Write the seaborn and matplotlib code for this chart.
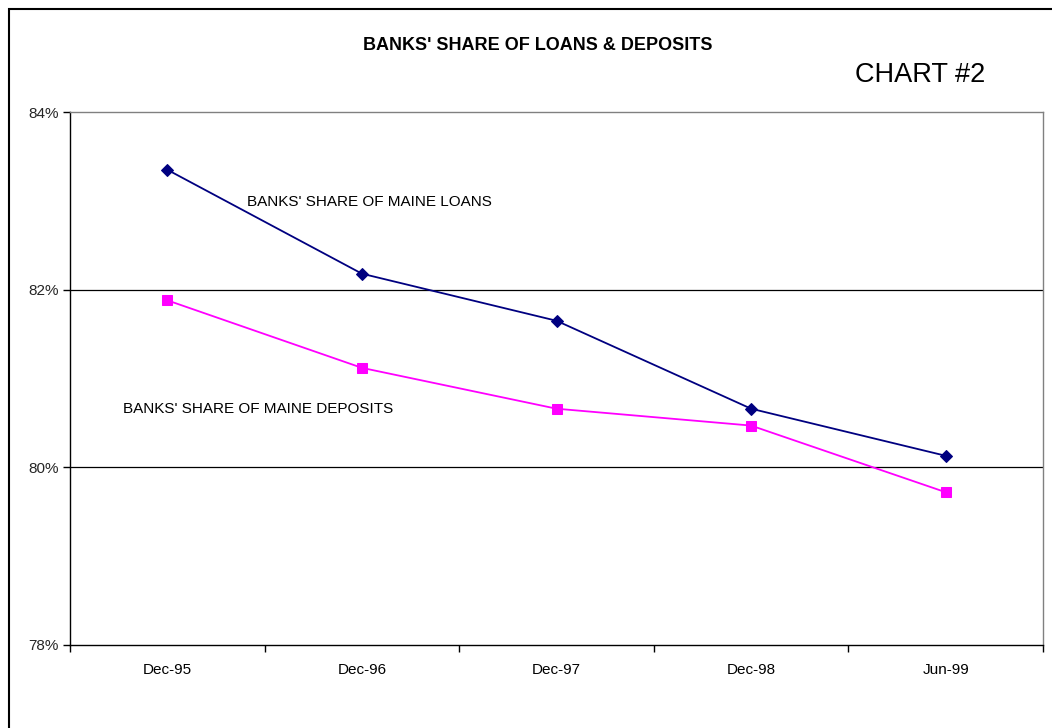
import matplotlib
matplotlib.use("Agg")
import matplotlib.pyplot as plt
import seaborn as sns
import pandas as pd
from matplotlib.patches import Rectangle
from matplotlib.ticker import FuncFormatter, FixedLocator, NullFormatter

periods = ["Dec-95", "Dec-96", "Dec-97", "Dec-98", "Jun-99"]
loans_share = [83.35, 82.18, 81.65, 80.66, 80.13]
deposits_share = [81.88, 81.12, 80.66, 80.47, 79.72]

sns.set_theme(style="white")
plt.rcParams["font.family"] = ["Liberation Sans", "DejaVu Sans"]

df = pd.DataFrame({"period": periods, "loans": loans_share, "deposits": deposits_share})
df["x"] = range(len(periods))

fig = plt.figure(figsize=(10.52, 7.28), dpi=100)
ax = fig.add_axes([70 / 1052, 1 - 645 / 728, (1043 - 70) / 1052, (645 - 112) / 728])

# outer frame of the chart object
fig.patches.append(Rectangle((9 / 1052, -0.1), 1.2, 1 - 9 / 728 + 0.1,
                             transform=fig.transFigure, fill=False,
                             edgecolor="black", linewidth=1.5))

ax.axhline(82, color="black", linewidth=0.9, zorder=1)
ax.axhline(80, color="black", linewidth=0.9, zorder=1)

sns.lineplot(data=df, x="x", y="loans", ax=ax, color="#000080", linewidth=1.3,
             marker="D", markersize=6, markeredgecolor="#000080", zorder=3)
sns.lineplot(data=df, x="x", y="deposits", ax=ax, color="#FF00FF", linewidth=1.3,
             marker="s", markersize=7, markeredgecolor="#FF00FF", zorder=3)

ax.set_xlim(-0.5, len(periods) - 0.5)
ax.set_ylim(78, 84)
ax.set_yticks([78, 80, 82, 84])
ax.yaxis.set_major_formatter(FuncFormatter(lambda v, p: f"{v:.0f}%"))

ax.set_xticks(range(len(periods)))
ax.set_xticklabels(periods)
ax.xaxis.set_minor_locator(FixedLocator([i - 0.5 for i in range(len(periods) + 1)]))
ax.xaxis.set_minor_formatter(NullFormatter())
ax.tick_params(axis="x", which="major", length=0, pad=13, labelsize=11, colors="black")
ax.tick_params(axis="x", which="minor", length=5, width=1, color="black", direction="out", bottom=True)
ax.tick_params(axis="y", length=5, width=1, color="black", direction="out", left=True,
               labelsize=11, pad=3)

ax.set_xlabel("")
ax.set_ylabel("")

for side in ["top", "right"]:
    ax.spines[side].set_color("#808080")
    ax.spines[side].set_linewidth(1.0)
for side in ["left", "bottom"]:
    ax.spines[side].set_color("black")
    ax.spines[side].set_linewidth(1.0)

# series labels placed in figure pixels measured from the top-left corner
series_labels = [(247, 202, "BANKS' SHARE OF MAINE LOANS"),
                 (123, 409, "BANKS' SHARE OF MAINE DEPOSITS")]
for px, py, label in series_labels:
    fig.text(px / 1052, 1 - py / 728, label, fontsize=11, va="center", ha="left",
             color="black")

fig.text(538 / 1052, 1 - 46 / 728, "BANKS' SHARE OF LOANS & DEPOSITS", ha="center",
         va="center", fontsize=13, fontweight="bold", color="black")
fig.text(920 / 1052, 1 - 75 / 728, "CHART #2", ha="center", va="center",
         fontsize=19.5, color="black")

fig.savefig("out.png", dpi=100, facecolor="white")
